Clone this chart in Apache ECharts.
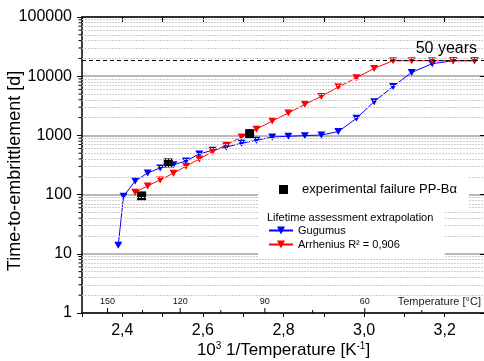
<!DOCTYPE html>
<html>
<head>
<meta charset="utf-8">
<script src="https://cdn.jsdelivr.net/npm/echarts@6/dist/echarts.min.js"></script>
<style>
  html, body { margin: 0; padding: 0; background: #fff; }
  #main { width: 484px; height: 361px; }
</style>
</head>
<body>
<div id="main"></div>
<script>
// 10^3 / T positions of the extrapolation points
const xValues = [2.390, 2.403, 2.432, 2.463, 2.494, 2.527, 2.558, 2.591, 2.624, 2.658, 2.696, 2.733,
  2.772, 2.812, 2.853, 2.894, 2.936, 2.981, 3.025, 3.072, 3.118, 3.169, 3.221, 3.274];
// time to embrittlement [d]
const gugumus = [14, 94, 170, 232, 282, 318, 370, 486, 561, 638, 736, 827,
  940, 966, 991, 1016, 1159, 1942, 3719, 6730, 11600, 16250, 18262, 18262];
// arrhenius starts at the third x value
const arrhenius = [110, 140, 177, 230, 301, 400, 533, 689, 940, 1275,
  1750, 2388, 3345, 4560, 6550, 9440, 13540, 18262, 18262, 18262, 18262, 18262];
const expX = [2.448, 2.514, 2.716];
const expY = [95, 343, 1072];
const fiftyYears = 18262;
const tempMajor = [150, 120, 90, 60];
const tempMinor = [135, 105, 75, 45];
const decades = [1, 10, 100, 1000, 10000];
const minorSteps = [2, 3, 4, 5, 6, 7, 8, 9];

const FONT = 'Liberation Sans, Arial, sans-serif';
const X_MIN = 2.3, X_MAX = 3.3;
const invT = t => 1000 / (t + 273.15);
const yMinor = decades.flatMap(d => minorSteps.map(m => d * m));
const triDown = 'path://M0,0 L10,0 L5,9 Z';

const chart = echarts.init(document.getElementById('main'));

const option = {
  animation: false,
  textStyle: { fontFamily: FONT },
  grid: { left: 82, right: -1, top: 17, bottom: 48, containLabel: false, outerBoundsMode: 'none' },
  title: [
    {
      text: 'Lifetime assessment extrapolation',
      left: 267, top: 212, padding: 0, z: 20,
      textStyle: { fontSize: 11, fontWeight: 'normal', color: '#000', fontFamily: FONT }
    },
    {
      text: 'Temperature [°C]',
      right: 3, top: 296, padding: 0,
      textStyle: { fontSize: 11, fontWeight: 'normal', color: '#222', fontFamily: FONT }
    }
  ],
  legend: [
    {
      data: ['experimental failure PP-Bα'],
      left: 258, top: 170, z: 10,
      padding: [13, 12, 13, 21],
      backgroundColor: '#fff',
      itemWidth: 9, itemHeight: 9,
      textStyle: { fontSize: 13, color: '#000', fontFamily: FONT, padding: [0, 0, 0, 9] }
    },
    {
      data: ['Gugumus', 'Arrhenius R² = 0,906'],
      orient: 'vertical',
      left: 258, top: 210, z: 10,
      padding: [15, 45, 9, 10],
      backgroundColor: '#fff',
      itemWidth: 24, itemHeight: 10, itemGap: 3,
      textStyle: { fontSize: 11, color: '#000', fontFamily: FONT }
    }
  ],
  xAxis: [
    {
      type: 'value', min: X_MIN, max: X_MAX, interval: 0.1,
      name: '10{sup|3} 1/Temperature [K{sup|-1}]',
      nameLocation: 'middle', nameGap: 28, nameMoveOverlap: false,
      nameTextStyle: {
        fontSize: 17, color: '#000', fontFamily: FONT,
        rich: { sup: { fontSize: 10, verticalAlign: 'bottom', padding: [0, 0, 9, 0] } }
      },
      axisLine: { onZero: false, lineStyle: { color: '#000', width: 1.5 } },
      axisTick: { inside: false, length: 4, lineStyle: { color: '#000' } },
      axisLabel: {
        fontSize: 16, color: '#000', margin: 10, fontFamily: FONT,
        formatter: v => Math.round(v * 10) % 2 === 0 ? v.toFixed(1).replace('.', ',') : ''
      },
      splitLine: { show: false }
    },
    {
      type: 'value', min: X_MIN, max: X_MAX, interval: 0.1, position: 'top',
      axisLine: { onZero: false, lineStyle: { color: '#000', width: 1.5 } },
      axisTick: { inside: true, length: 5, lineStyle: { color: '#000' } },
      axisLabel: { show: false },
      splitLine: { show: false }
    }
  ],
  yAxis: [
    {
      type: 'log', logBase: 10, min: 1, max: 100000,
      name: 'Time-to-embrittlement [d]',
      nameLocation: 'middle', nameGap: 58, nameMoveOverlap: false,
      nameTextStyle: { fontSize: 18, color: '#000', fontFamily: FONT, padding: [0, 12, 0, 0] },
      axisLine: { onZero: false, lineStyle: { color: '#000', width: 1.5 } },
      axisTick: { inside: false, length: 5, lineStyle: { color: '#000' } },
      axisLabel: {
        fontSize: 16, color: '#000', margin: 10, fontFamily: FONT,
        formatter: v => String(Math.round(v))
      },
      splitLine: { show: true, lineStyle: { color: '#a0a0a0', width: 1.5 } }
    },
    {
      type: 'log', logBase: 10, min: 1, max: 100000, position: 'right',
      axisLine: { onZero: false, lineStyle: { color: '#000', width: 1.5 } },
      axisTick: { inside: true, length: 5 },
      axisLabel: { show: false },
      splitLine: { show: false }
    }
  ],
  series: [
    {
      // dotted minor grid lines
      name: 'minor grid', type: 'line', z: 1, silent: true,
      data: [[X_MIN, 1]], showSymbol: false,
      markLine: {
        silent: true, symbol: 'none', label: { show: false },
        lineStyle: { color: '#cccccc', width: 1, type: [2, 1] },
        data: yMinor.map(v => ({ yAxis: v }))
      }
    },
    {
      // minor ticks on the left axis
      name: 'y minor ticks', type: 'scatter', silent: true, clip: false, z: 2,
      data: yMinor.map(v => [X_MIN, v]),
      symbol: 'rect', symbolSize: [3, 1], symbolOffset: [-2, 0],
      itemStyle: { color: '#000', opacity: 1 }
    },
    {
      // 50 years line
      name: '50 years', type: 'line', z: 2, silent: true,
      data: [[X_MIN, fiftyYears]], showSymbol: false,
      markLine: {
        silent: true, symbol: 'none',
        lineStyle: { color: '#000', width: 1, type: [4, 3] },
        label: {
          show: true, position: 'insideEndTop', formatter: '50 years',
          fontSize: 16, color: '#000', fontFamily: FONT, distance: [8, 4]
        },
        data: [{ yAxis: fiftyYears }]
      }
    },
    {
      // temperature scale ticks with labels
      name: 'temp major', type: 'scatter', silent: true, clip: false, z: 2,
      data: tempMajor.map(t => ({ value: [invT(t), 1], temp: t })),
      symbol: 'rect', symbolSize: [1, 5], symbolOffset: [0, -2.5],
      itemStyle: { color: '#000', opacity: 1 },
      label: {
        show: true, position: 'top', distance: 2, fontSize: 9, color: '#111', fontFamily: FONT,
        formatter: p => String(p.data.temp)
      }
    },
    {
      name: 'temp minor', type: 'scatter', silent: true, clip: false, z: 2,
      data: tempMinor.map(t => [invT(t), 1]),
      symbol: 'rect', symbolSize: [1, 3], symbolOffset: [0, -1.5],
      itemStyle: { color: '#000', opacity: 1 }
    },
    {
      name: 'Gugumus', type: 'line', z: 3,
      data: xValues.map((x, i) => [x, gugumus[i]]),
      symbol: triDown, symbolSize: [8, 7],
      lineStyle: { color: '#0000ff', width: 1 },
      itemStyle: { color: '#0000ff' }
    },
    {
      name: 'Arrhenius R² = 0,906', type: 'line', z: 3,
      data: arrhenius.map((v, i) => [xValues[i + 2], v]),
      symbol: triDown, symbolSize: [8, 7],
      lineStyle: { color: '#ff0000', width: 1 },
      itemStyle: { color: '#ff0000' }
    },
    {
      name: 'experimental failure PP-Bα', type: 'scatter', z: 4,
      data: expX.map((x, i) => [x, expY[i]]),
      symbol: 'rect', symbolSize: 9,
      itemStyle: { color: '#000', opacity: 1 }
    }
  ]
};

chart.setOption(option);
</script>
</body>
</html>
